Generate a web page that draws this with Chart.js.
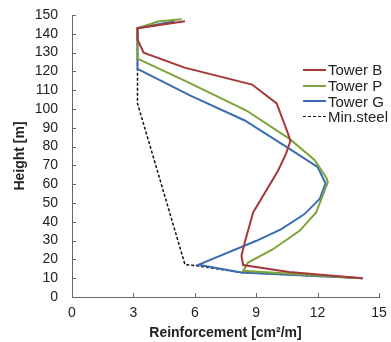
<!DOCTYPE html>
<html>
<head>
<meta charset="utf-8">
<script src="https://cdn.jsdelivr.net/npm/chart.js@4/dist/chart.umd.min.js"></script>
<style>
  html, body { margin: 0; padding: 0; background: #fff; }
  #wrap { position: relative; width: 391px; height: 342px; }
  #legend { position: absolute; left: 303px; top: 62px; font-family: "Liberation Sans", Arial, sans-serif; font-size: 15px; color: #222; }
  .item { display: flex; align-items: center; height: 15.7px; white-space: nowrap; }
  .swatch { width: 23px; margin-right: 2px; }
</style>
</head>
<body>
<div id="wrap">
  <canvas id="c" width="391" height="342"></canvas>
  <div id="legend"></div>
</div>
<script>
// Perfiles de armadura por altura
const xTicks = [0, 3, 6, 9, 12, 15];

const towerB_x = [5.52, 3.2, 3.2, 3.5, 5.5, 8.8, 10.0, 10.55, 10.67, 10.45, 10.06, 8.85, 8.44, 8.28, 8.36, 10.6, 12.9, 14.2];
const towerB_h = [146.7, 143, 137, 130, 122, 113, 103, 87, 83, 76, 67, 45, 29, 22, 17, 13.3, 11.2, 10];

const towerP_x = [5.36, 4.2, 3.2, 3.2, 5.76, 8.52, 10.63, 11.85, 12.42, 12.5, 11.93, 11.12, 9.82, 8.6, 8.36, 14.2];
const towerP_h = [147.8, 146.5, 143, 126.8, 113.8, 99.2, 84.1, 72.9, 63.6, 61, 45, 35.2, 25.4, 18.3, 13.9, 10];

const towerG_x = [5.0, 3.2, 3.2, 5.76, 8.44, 10.63, 12.01, 12.39, 12.1, 11.36, 10.23, 9.01, 6.17, 8.28, 14.2];
const towerG_h = [146.5, 143, 121.4, 107.2, 93.9, 78.8, 69, 60.4, 52.1, 44.1, 36.1, 29.9, 17.1, 13, 10];

const minSteel_x = [4.9, 3.2, 3.2, 5.52, 6.17, 8.28, 14.2];
const minSteel_h = [146.5, 143, 103, 17.2, 16.5, 13, 10];

const pts = (xs, hs) => xs.map((x, i) => ({ x, y: hs[i] }));
const FONT = "'Liberation Sans', Arial, sans-serif";

const series = [
  { label: "Tower B", data: pts(towerB_x, towerB_h), color: "#a5383a", dash: [], width: 2 },
  { label: "Tower P", data: pts(towerP_x, towerP_h), color: "#7ea23c", dash: [], width: 2 },
  { label: "Tower G", data: pts(towerG_x, towerG_h), color: "#3c6db3", dash: [], width: 2 },
  { label: "Min.steel", data: pts(minSteel_x, minSteel_h), color: "#111", dash: [3, 2], width: 1.5 },
];

// marcas de eje hacia dentro, como en el original
const innerTicks = {
  id: "innerTicks",
  afterDraw(chart) {
    const { ctx, chartArea: a, scales } = chart;
    ctx.save();
    ctx.strokeStyle = "#666";
    ctx.lineWidth = 1;
    scales.y.ticks.forEach((t) => {
      const py = Math.round(scales.y.getPixelForValue(t.value)) + 0.5;
      ctx.beginPath(); ctx.moveTo(a.left, py); ctx.lineTo(a.left + 4, py); ctx.stroke();
    });
    scales.x.ticks.forEach((t) => {
      const px = Math.round(scales.x.getPixelForValue(t.value)) + 0.5;
      ctx.beginPath(); ctx.moveTo(px, a.bottom); ctx.lineTo(px, a.bottom - 4); ctx.stroke();
    });
    ctx.restore();
  },
};

new Chart(document.getElementById("c"), {
  type: "scatter",
  data: {
    datasets: series.map((s) => ({
      label: s.label, data: s.data, showLine: true,
      borderColor: s.color, backgroundColor: s.color, borderWidth: s.width,
      borderDash: s.dash, pointRadius: 0, tension: 0,
    })),
  },
  options: {
    responsive: false, animation: false,
    layout: { padding: { top: 15, right: 12, left: 12, bottom: 0 } },
    plugins: { legend: { display: false }, tooltip: { enabled: false } },
    scales: {
      x: {
        type: "linear", min: 0, max: 15,
        afterBuildTicks: (s) => { s.ticks = xTicks.map((v) => ({ value: v })); },
        grid: { display: false, drawTicks: false },
        border: { color: "#666", width: 1 },
        ticks: { color: "#222", font: { family: FONT, size: 14 }, padding: 8, autoSkip: false, maxRotation: 0 },
        title: { display: true, text: "Reinforcement [cm²/m]", color: "#222", font: { family: FONT, size: 14, weight: "bold" }, padding: { top: 0, bottom: 0 } },
        afterFit: (s) => { s.height = 45; s.paddingLeft = 0; s.paddingRight = 0; },
      },
      y: {
        type: "linear", min: 0, max: 150,
        ticks: { stepSize: 10, autoSkip: false, color: "#222", font: { family: FONT, size: 14 }, padding: 14 },
        grid: { display: false, drawTicks: false },
        border: { color: "#666", width: 1 },
        title: { display: true, text: "Height [m]", color: "#222", font: { family: FONT, size: 14, weight: "bold" }, padding: { top: 0, bottom: 4 } },
        afterFit: (s) => { s.width = 60; s.paddingTop = 0; s.paddingBottom = 0; },
      },
    },
  },
  plugins: [innerTicks],
});

// leyenda HTML
document.getElementById("legend").innerHTML = series.map((s) => `
  <div class="item"><span class="swatch" style="border-top:${s.dash.length ? "1.5px dashed" : "2px solid"} ${s.color}"></span>${s.label}</div>`).join("");
</script>
</body>
</html>
